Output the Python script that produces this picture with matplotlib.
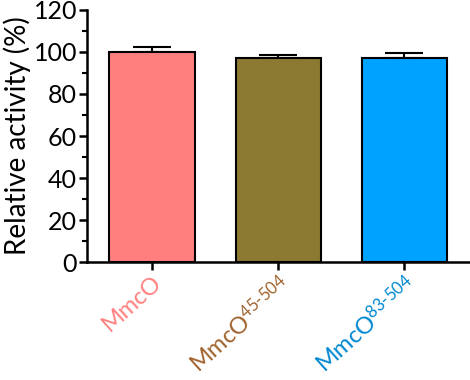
import matplotlib
matplotlib.use("Agg")
import matplotlib.pyplot as plt
from matplotlib.ticker import MultipleLocator

# ── Data ──
labels = ["MmcO", r"MmcO$\mathregular{^{45‐504}}$", r"MmcO$\mathregular{^{83‐504}}$"]
values = [100.0, 97.0, 97.0]
errors = [2.3, 1.4, 2.7]
bar_colors = ["#FF7F7F", "#8C7932", "#00A2FF"]
label_colors = ["#FF8080", "#A0622D", "#0088D1"]

plt.rcParams["font.family"] = ["Lato", "DejaVu Sans"]
plt.rcParams["mathtext.fontset"] = "custom"
plt.rcParams["mathtext.rm"] = "Lato"

fig = plt.figure(figsize=(4.7, 3.8), dpi=100)
ax = fig.add_axes([0.185, 0.31, 0.815, 0.664])

x = list(range(len(values)))
ax.bar(x, values, width=0.675, color=bar_colors, edgecolor="black", linewidth=1.5, zorder=2)
ax.errorbar(x, values, yerr=[[0] * len(errors), errors], fmt="none", ecolor="black",
            elinewidth=1.5, capsize=14, capthick=1.5, zorder=1)

ax.set_xlim(-0.516, 2.52)
ax.set_ylim(0, 120)
ax.yaxis.set_major_locator(MultipleLocator(20))
ax.yaxis.set_minor_locator(MultipleLocator(10))
ax.set_ylabel("Relative activity (%)", fontsize=20, labelpad=2)

for side in ("top", "right"):
    ax.spines[side].set_visible(False)
for side in ("left", "bottom"):
    ax.spines[side].set_linewidth(1.8)

ax.tick_params(axis="y", which="major", length=6, width=1.8, labelsize=18, pad=1)
ax.tick_params(axis="y", which="minor", length=3.5, width=1.5)
ax.tick_params(axis="x", length=6, width=1.8, pad=1)

ax.set_xticks(x)
ax.set_xticklabels(labels, rotation=42, ha="right", rotation_mode="anchor", fontsize=17)
for tl, c in zip(ax.get_xticklabels(), label_colors):
    tl.set_color(c)

fig.savefig("out.png", dpi=100)
